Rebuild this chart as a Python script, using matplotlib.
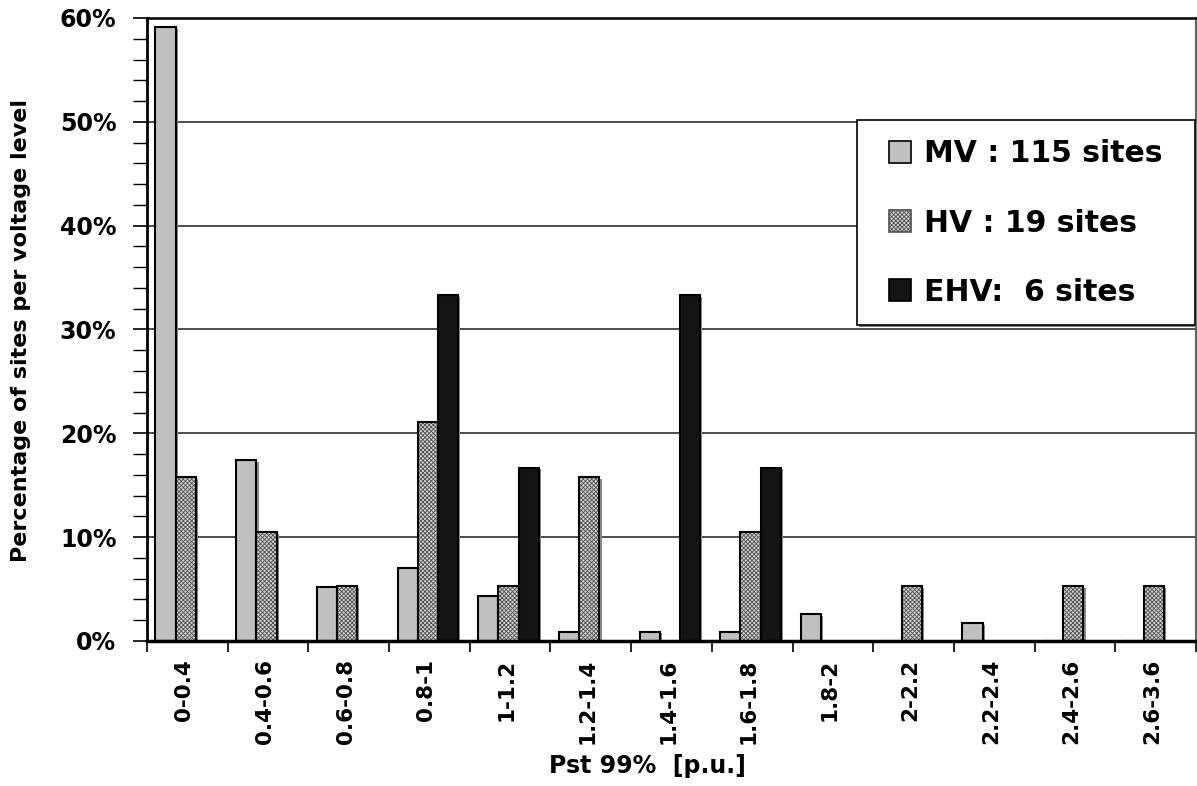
import matplotlib
matplotlib.use("Agg")
import matplotlib.pyplot as plt
import numpy as np
from matplotlib.patches import Rectangle, Patch
from matplotlib.ticker import MultipleLocator, FixedLocator, FuncFormatter

categories = ["0-0.4", "0.4-0.6", "0.6-0.8", "0.8-1", "1-1.2", "1.2-1.4", "1.4-1.6",
              "1.6-1.8", "1.8-2", "2-2.2", "2.2-2.4", "2.4-2.6", "2.6-3.6"]
mv = [59.1, 17.4, 5.2, 7.0, 4.3, 0.9, 0.9, 0.9, 2.6, 0.0, 1.7, 0.0, 0.0]
hv = [15.8, 10.5, 5.3, 21.1, 5.3, 15.8, 0.0, 10.5, 0.0, 5.3, 0.0, 5.3, 5.3]
ehv = [0.0, 0.0, 0.0, 33.3, 16.7, 0.0, 33.3, 16.7, 0.0, 0.0, 0.0, 0.0, 0.0]
labels = ["MV : 115 sites", "HV : 19 sites", "EHV:  6 sites"]
yticks = [0, 10, 20, 30, 40, 50, 60]

plt.rcParams['font.family'] = ['DejaVu Sans']
plt.rcParams['font.weight'] = 'bold'
plt.rcParams['hatch.linewidth'] = 0.6

W, H = 1197, 786
fig = plt.figure(figsize=(W / 100, H / 100), dpi=100)
ax = fig.add_axes([147 / W, (H - 641) / H, (1196 - 147) / W, (641 - 18) / H])

x = np.arange(len(categories))
w = 0.25
sh = 0.028
dx = -0.02

mv_c = '#c0c0c0'
hv_face = '#d4d4d4'
hv_hatch = '#505050'
hv_pat = 'xxxxxxxx'
ehv_c = '#141414'
shadow = '#8a8a8a'

for vals, off in [(mv, -w), (hv, 0.0), (ehv, w)]:
    v = np.array(vals)
    m = v > 0
    ax.bar(x[m] + off + sh + dx, v[m] - 0.15, w, bottom=0, color=shadow, linewidth=0, zorder=2)

ax.bar(x - w + dx, mv, w, color=mv_c, edgecolor='black', linewidth=1.5, zorder=3)
hv_arr = np.array(hv)
mh = hv_arr > 0
ax.bar(x[mh] + dx, hv_arr[mh], w, color=hv_face, edgecolor=hv_hatch, hatch=hv_pat, linewidth=0, zorder=3)
ax.bar(x[mh] + dx, hv_arr[mh], w, fill=False, edgecolor='black', linewidth=1.5, zorder=4)
ea = np.array(ehv)
me = ea > 0
ax.bar(x[me] + w + dx, ea[me], w, color=ehv_c, edgecolor='black', linewidth=1.5, zorder=3)

ax.set_xlim(-0.5, len(categories) - 0.5)
ax.set_ylim(0, 60)

ax.yaxis.set_major_locator(FixedLocator(yticks))
ax.yaxis.set_minor_locator(MultipleLocator(2))
ax.yaxis.set_major_formatter(FuncFormatter(lambda v, p: f"{int(round(v))}%"))
ax.tick_params(axis='y', which='major', direction='out', length=10, width=1.2, pad=12,
               labelsize=17, colors='black')
ax.tick_params(axis='y', which='minor', direction='out', length=10, width=1.0)

ax.set_xticks(x - 0.04)
ax.set_xticklabels(categories, rotation=90, va='top', ha='center', fontsize=15.5, fontweight='bold')
ax.xaxis.set_minor_locator(FixedLocator(np.arange(-0.5, len(categories), 1.0)))
ax.tick_params(axis='x', which='major', length=0, pad=13)
ax.tick_params(axis='x', which='minor', direction='out', length=8, width=1.2)

ax.yaxis.grid(True, which='major', color='#303030', linewidth=1.2, zorder=0)
ax.set_axisbelow(True)

ax.spines['left'].set_linewidth(2.0)
ax.spines['bottom'].set_linewidth(2.5)
ax.spines['bottom'].set_zorder(5)
ax.spines['top'].set_linewidth(1.8)
ax.spines['right'].set_linewidth(1.5)
ax.spines['right'].set_color('#606060')

ax.set_ylabel("Percentage of sites per voltage level", fontsize=16, fontweight='bold')
ax.yaxis.set_label_coords(-(147 - 31) / 1049, (641 - 330) / 623)
ax.set_xlabel("Pst 99%  [p.u.]", fontsize=17, fontweight='bold')
ax.xaxis.set_label_coords((647 - 147) / 1049, -(754 - 641) / 623)

# legend frame
bx0 = (857 - 147) / 1049
bx1 = (1195 - 147) / 1049
by1 = (641 - 120) / 623
by0 = (641 - 325) / 623
ax.add_patch(Rectangle((bx0 + 0.002, by0 - 0.004), bx1 - bx0, by1 - by0, transform=ax.transAxes,
                       facecolor='#808080', edgecolor='none', zorder=9, clip_on=False))
ax.add_patch(Rectangle((bx0, by0), bx1 - bx0, by1 - by0, transform=ax.transAxes,
                       facecolor='white', edgecolor='black', linewidth=1.2, zorder=10, clip_on=False))

handles = [Patch(facecolor=mv_c, edgecolor='black', linewidth=1.2),
           Patch(facecolor=hv_face, edgecolor=hv_hatch, hatch=hv_pat, linewidth=1.2),
           Patch(facecolor=ehv_c, edgecolor='black', linewidth=1.2)]
leg = ax.legend(handles, labels, loc='center left',
                bbox_to_anchor=((889 - 147) / 1049, (641 - 223) / 623),
                frameon=False, borderaxespad=0, borderpad=0,
                prop={'weight': 'bold', 'size': 21.5},
                handlelength=0.72, handleheight=0.72, handletextpad=0.45, labelspacing=1.34)
leg.set_zorder(11)

fig.savefig("out.png", dpi=100)
